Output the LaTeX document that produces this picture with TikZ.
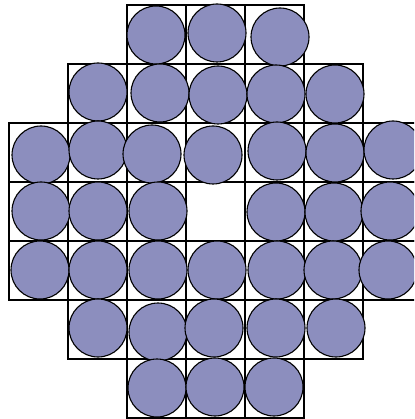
\documentclass[tikz,border=0pt]{standalone}
\definecolor{discfill}{RGB}{140,142,190}
\begin{document}
\begin{tikzpicture}[x=1pt,y=-1pt,
  cell/.style={draw=black,line width=1.8pt},
  disc/.style={circle,draw=black,fill=discfill,line width=1.1pt,minimum size=58pt,inner sep=0pt}]
\useasboundingbox (0,0) rectangle (414,419);
\clip (0,0) rectangle (414,419);
\foreach \r/\a/\b in {0/2/4,1/1/5,2/0/6,3/0/6,4/0/6,5/1/5,6/2/4}
  \foreach \c in {\a,...,\b}
    \draw[cell] ({9+59*\c},{5+59*\r}) rectangle ++(59,59);
\foreach \x/\y [count=\i] in {156/35,217/33,280/37,
  98/92,160/93,218/95,276/94,335/94,
  41/155,98/150,152/154,213/155,277/151,335/153,393/150,
  41/211,98/211,158/211,276/212,334/212,390/211,
  40/270,98/270,158/270,217/270,277/270,333/270,388/270,
  98/328,158/332,214/328,276/328,336/328,
  157/388,215/387,274/387}
  \node[disc] (d\i) at (\x,\y) {};
\end{tikzpicture}
\end{document}
